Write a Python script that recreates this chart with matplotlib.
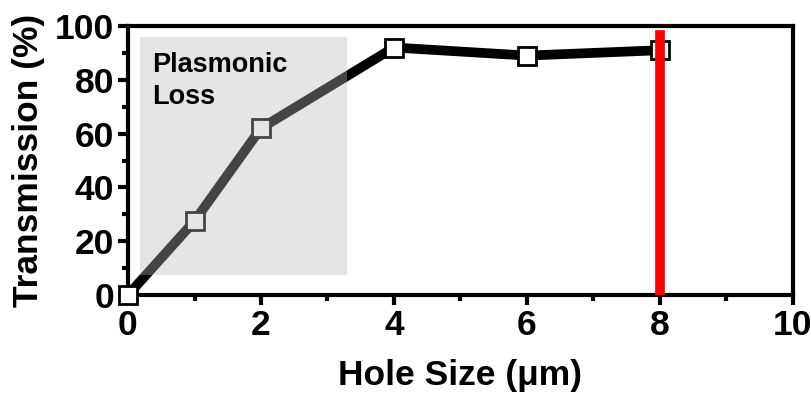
import matplotlib.pyplot as plt
from matplotlib.ticker import MultipleLocator

hole_size = [0, 1, 2, 4, 6, 8]
transmission = [0, 27.5, 62, 92, 89, 91]
cutoff = 8

plt.rcParams['font.family'] = ['Liberation Sans', 'DejaVu Sans']
plt.rcParams['font.weight'] = 'bold'

fig = plt.figure(figsize=(8.12, 3.95), dpi=100)
ax = fig.add_axes([128 / 812, 1 - 295 / 395, 665 / 812, 269 / 395])

ax.plot(hole_size, transmission, color='black', lw=7, marker='s', ms=13,
        mfc='white', mec='black', mew=2, zorder=3, clip_on=False)
ax.axvline(cutoff, ymin=0, ymax=0.965, color='#ff0000', lw=7, zorder=4)

# shaded region sits on top of the curve, so the line shows through grey
ax.axvspan(0.18, 3.3, ymin=0.074, ymax=0.96, facecolor='#bababa', alpha=0.37,
           edgecolor='none', zorder=5)
ax.text(0.36, 79.5, 'Plasmonic\nLoss', fontsize=19.5, fontweight='bold',
        va='center', ha='left', linespacing=1.3, zorder=6)

ax.set_xlim(0, 10)
ax.set_ylim(0, 100)
ax.xaxis.set_major_locator(MultipleLocator(2))
ax.xaxis.set_minor_locator(MultipleLocator(1))
ax.yaxis.set_major_locator(MultipleLocator(20))
ax.yaxis.set_minor_locator(MultipleLocator(10))
ax.tick_params(which='major', direction='out', length=7, width=3, labelsize=25.5, pad=3)
ax.tick_params(which='minor', direction='out', length=4.5, width=3)
for s in ax.spines.values():
    s.set_linewidth(3)

ax.set_xlabel('Hole Size (\u03bcm)', fontsize=25.5, fontweight='bold', labelpad=12)
ax.set_ylabel('Transmission (%)', fontsize=25.5, fontweight='bold', labelpad=7)

fig.savefig('out.png', dpi=100)
